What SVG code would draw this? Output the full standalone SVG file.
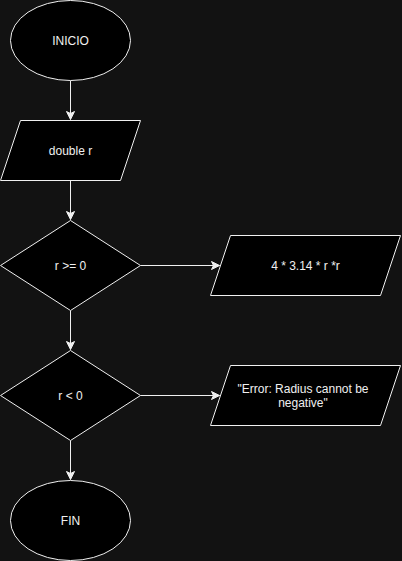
<svg xmlns="http://www.w3.org/2000/svg" width="402" height="561" viewBox="0 0 402 561">
<defs>
<style>
.s{fill:#000000;stroke:#f0f0f0;stroke-width:1}
.t{font-family:"Liberation Sans",Arial,Helvetica,sans-serif;font-size:12px;fill:#f0f0f0;text-anchor:middle;dominant-baseline:central}
.c{fill:none;stroke:#f0f0f0;stroke-width:1}
</style>
<marker id="ah" markerUnits="userSpaceOnUse" viewBox="-9 -5 10 10" refX="0" refY="0" markerWidth="10" markerHeight="10" orient="auto">
<path d="M0,0 L-8,-4 L-6,0 L-8,4 Z" fill="#f0f0f0" stroke="#f0f0f0" stroke-width="1"/>
</marker>
</defs>
<rect x="0" y="0" width="402" height="561" fill="#121212"/>
<g id="connectors">
<path class="c" d="M70.5,80.5 L70.5,119.5" marker-end="url(#ah)"/>
<path class="c" d="M70.5,180.5 L70.5,219.5" marker-end="url(#ah)"/>
<path class="c" d="M140.5,265.5 L219.5,265.5" marker-end="url(#ah)"/>
<path class="c" d="M70.5,310.5 L70.5,349.5" marker-end="url(#ah)"/>
<path class="c" d="M140.5,395.5 L219.5,395.5" marker-end="url(#ah)"/>
<path class="c" d="M70.5,440.5 L70.5,479.5" marker-end="url(#ah)"/>
</g>
<g id="inicio">
<ellipse class="s" cx="70.5" cy="40.5" rx="60" ry="40"/>
<text class="t" x="70.5" y="41">INICIO</text>
</g>
<g id="double-r">
<polygon class="s" points="20.5,120.5 140.5,120.5 120.5,180.5 0.5,180.5"/>
<text class="t" x="70.5" y="151">double r</text>
</g>
<g id="cond1">
<polygon class="s" points="70.5,220.5 140.5,265.5 70.5,310.5 0.5,265.5"/>
<text class="t" x="70.5" y="266">r &gt;= 0</text>
</g>
<g id="calc">
<polygon class="s" points="230.5,235.5 400.5,235.5 380.5,295.5 210.5,295.5"/>
<text class="t" x="305.5" y="266">4 * 3.14 * r *r</text>
</g>
<g id="cond2">
<polygon class="s" points="70.5,350.5 140.5,395.5 70.5,440.5 0.5,395.5"/>
<text class="t" x="70.5" y="396">r &lt; 0</text>
</g>
<g id="error">
<polygon class="s" points="230.5,365.5 400.5,365.5 380.5,425.5 210.5,425.5"/>
<text class="t" x="303" y="389">"Error: Radius cannot be</text>
<text class="t" x="303" y="403">negative"</text>
</g>
<g id="fin">
<ellipse class="s" cx="70.5" cy="520.5" rx="60" ry="40"/>
<text class="t" x="70.5" y="521">FIN</text>
</g>
</svg>
